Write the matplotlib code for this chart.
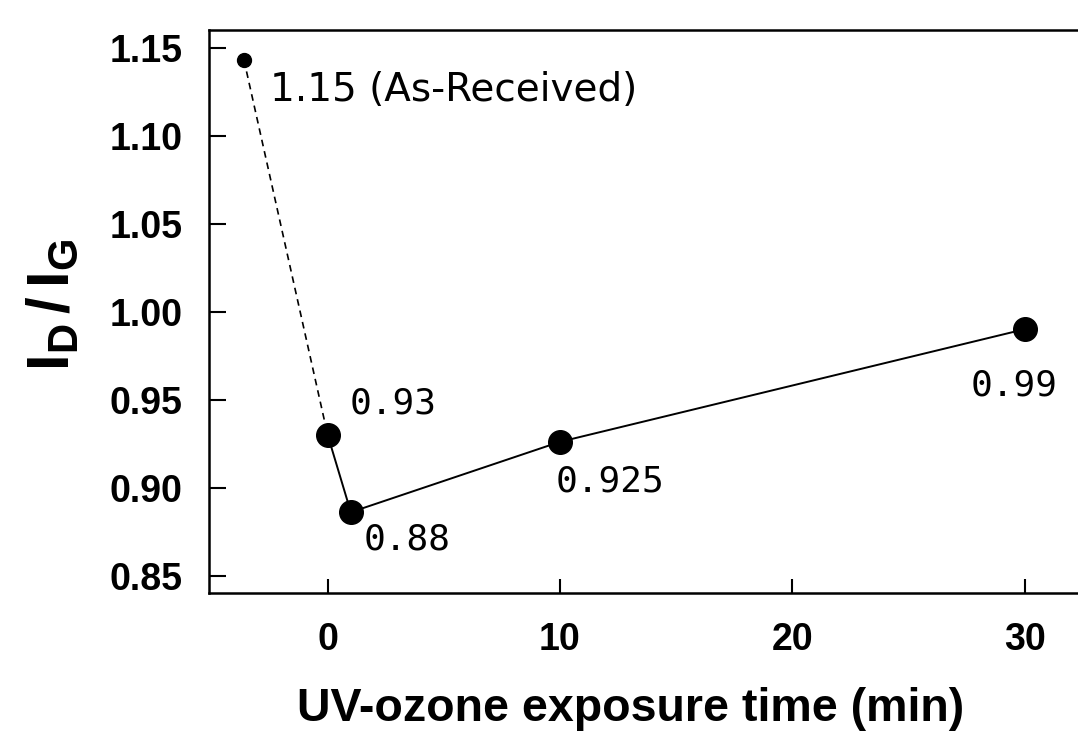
import matplotlib
matplotlib.use("Agg")
import matplotlib.pyplot as plt

# data
exposure_min = [-3.6, 0, 1, 10, 30]
id_ig = [1.143, 0.930, 0.886, 0.926, 0.990]
point_labels = ["1.15 (As-Received)", "0.93", "0.88", "0.925", "0.99"]
x_ticks = [0, 10, 20, 30]
y_ticks = [0.85, 0.90, 0.95, 1.00, 1.05, 1.10, 1.15]

plt.rcParams["font.family"] = "Liberation Sans"
plt.rcParams["mathtext.fontset"] = "custom"
plt.rcParams["mathtext.rm"] = "Liberation Sans:bold"
plt.rcParams["mathtext.it"] = "Liberation Sans:bold"
plt.rcParams["mathtext.bf"] = "Liberation Sans:bold"

fig = plt.figure(figsize=(10.78, 7.35), dpi=100)
ax = fig.add_axes([0.194, 0.193, 0.806, 0.766])

# as-received point joined by a dashed line, treated series solid
ax.plot(exposure_min[:2], id_ig[:2], color="black", lw=1.2, ls=(0, (4, 3)))
ax.plot(exposure_min[1:], id_ig[1:], color="black", lw=1.4)
ax.plot(exposure_min[:1], id_ig[:1], "o", color="black", ms=10)
ax.plot(exposure_min[1:], id_ig[1:], "o", color="black", ms=17)

offsets = [(26, -30), (22, 31), (13, -27), (-4, -40), (-54, -56)]
for xv, yv, lab, off in zip(exposure_min, id_ig, point_labels, offsets):
    mono = lab.startswith("0")
    ax.annotate(lab, (xv, yv), xytext=off, textcoords="offset pixels",
                ha="left", va="center", fontsize=26 if mono else 28,
                family=["DejaVu Sans Mono"] if mono else ["DejaVu Sans"])

ax.set_xlim(-5.1, 32.3)
ax.set_ylim(0.840, 1.160)
ax.set_xticks(x_ticks)
ax.set_yticks(y_ticks)
ax.set_yticklabels([f"{v:.2f}" for v in y_ticks])

ax.spines["right"].set_visible(False)
for s in ("left", "top", "bottom"):
    ax.spines[s].set_linewidth(1.8)

ax.tick_params(axis="y", direction="in", length=12, width=1.5, pad=19, labelsize=27)
ax.tick_params(axis="x", direction="in", length=10, width=1.5, pad=21, labelsize=27)
for lbl in ax.get_xticklabels() + ax.get_yticklabels():
    lbl.set_fontweight("bold")

ax.set_xlabel("UV-ozone exposure time (min)", fontsize=33.5, fontweight="bold")
ax.xaxis.set_label_coords(0.485, -0.167)
ax.set_ylabel(r"$\mathrm{I_D\,/\,I_G}$", fontsize=43)
ax.yaxis.set_label_coords(-0.148, 0.512)

fig.savefig("out.png", dpi=100)
